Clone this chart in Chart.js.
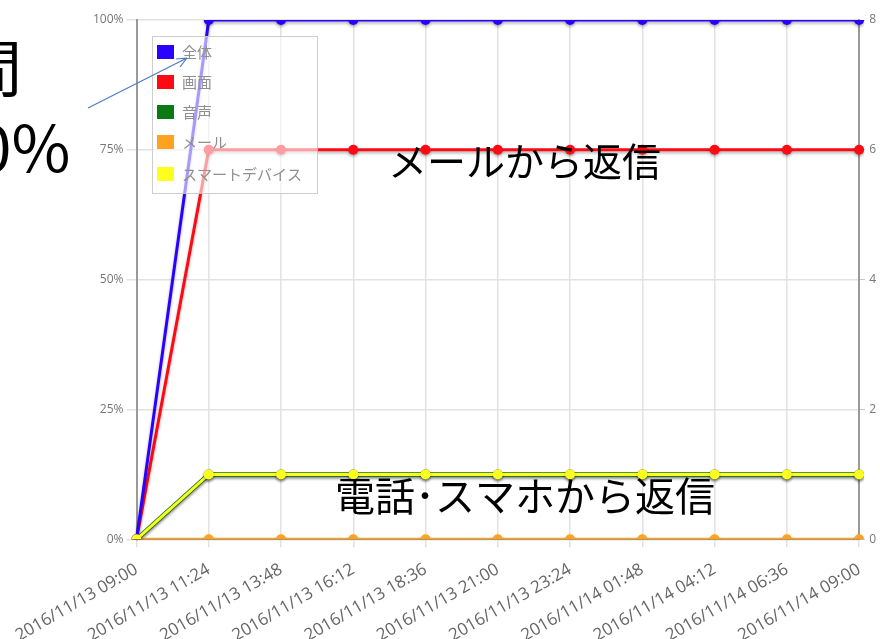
<!DOCTYPE html>
<html>
<head>
<meta charset="utf-8">
<script src="https://cdn.jsdelivr.net/npm/chart.js@4.4.1/dist/chart.umd.min.js"></script>
<style>
    html, body { margin: 0; padding: 0; background: #fff; overflow: hidden; }
    #wrap { width: 880px; height: 639px; overflow: hidden; position: relative; }
    canvas { position: absolute; left: 0; top: 0; }
</style>
</head>
<body>
<div id="wrap">
    <canvas id="replyChart" width="882" height="662"></canvas>
</div>
<script>
// x-axis categories
const labels = [
    '2016/11/13 09:00', '2016/11/13 11:24', '2016/11/13 13:48', '2016/11/13 16:12',
    '2016/11/13 18:36', '2016/11/13 21:00', '2016/11/13 23:24', '2016/11/14 01:48',
    '2016/11/14 04:12', '2016/11/14 06:36', '2016/11/14 09:00'
];

// counts on the right axis (0-8)
const totalCounts  = [0, 8, 8, 8, 8, 8, 8, 8, 8, 8, 8];
const screenCounts = [0, 6, 6, 6, 6, 6, 6, 6, 6, 6, 6];
const voiceCounts  = [0, 1, 1, 1, 1, 1, 1, 1, 1, 1, 1];
const mailCounts   = [0, 0, 0, 0, 0, 0, 0, 0, 0, 0, 0];
const smartCounts  = [0, 1, 1, 1, 1, 1, 1, 1, 1, 1, 1];

const seriesNames  = ['全体', '画面', '音声', 'メール', 'スマートデバイス'];
const seriesColors = ['#2a00ff', '#ff0a14', '#0a7a14', '#ffa21e', '#ffff1e'];

const leftTicks  = [0, 25, 50, 75, 100];
const rightTicks = [0, 2, 4, 6, 8];

const annotations = [
    { text: '間', x: -40, y: 68, size: 62 },
    { text: '0%', x: -24, y: 148, size: 64 },
    { text: 'メールから返信', x: 388, y: 161, size: 39 },
    { text: '電話･スマホから返信', x: 335, y: 496, size: 40 }
];

// legend box drawn inside the plot, semi transparent
const boxLegend = {
    id: 'boxLegend',
    afterDatasetsDraw(chart) {
        const ctx = chart.ctx;
        ctx.save();
        ctx.fillStyle = 'rgba(255,255,255,0.6)';
        ctx.fillRect(152, 36, 165, 157);
        ctx.strokeStyle = 'rgba(200,200,200,0.9)';
        ctx.lineWidth = 1;
        ctx.strokeRect(152.5, 36.5, 165, 157);
        ctx.font = '15px "Noto Sans CJK JP"';
        ctx.textBaseline = 'middle';
        const rows = [52, 82, 112, 142, 174];
        seriesNames.forEach((name, i) => {
            ctx.fillStyle = seriesColors[i];
            ctx.fillRect(157, rows[i] - 7, 17, 14);
            ctx.fillStyle = '#8f8f8f';
            ctx.fillText(name, 182, rows[i]);
        });
        ctx.restore();
    }
};

const shadowLines = {
    id: 'shadowLines',
    beforeDatasetDraw(chart) {
        const ctx = chart.ctx;
        ctx.save();
        ctx.shadowColor = 'rgba(0,0,0,0.3)';
        ctx.shadowBlur = 3;
        ctx.shadowOffsetY = 2;
    },
    afterDatasetDraw(chart) {
        chart.ctx.restore();
    }
};

const overlayText = {
    id: 'overlayText',
    afterDraw(chart) {
        const ctx = chart.ctx;
        ctx.save();
        ctx.fillStyle = '#000';
        ctx.textBaseline = 'middle';
        annotations.forEach(a => {
            ctx.font = a.size + 'px "Noto Sans CJK JP"';
            ctx.fillText(a.text, a.x, a.y);
        });
        // arrow pointing at the legend
        ctx.strokeStyle = '#4a7cc0';
        ctx.lineWidth = 1.2;
        ctx.beginPath();
        ctx.moveTo(88, 108);
        ctx.lineTo(187, 58);
        ctx.moveTo(187, 58);
        ctx.lineTo(176, 59);
        ctx.moveTo(187, 58);
        ctx.lineTo(180, 67);
        ctx.stroke();
        ctx.restore();
    }
};

function makeSet(i, values, width, order) {
    return {
        label: seriesNames[i],
        data: values,
        yAxisID: 'y1',
        order: order,
        borderColor: seriesColors[i],
        backgroundColor: seriesColors[i],
        borderWidth: width,
        pointRadius: 5,
        pointHoverRadius: 5,
        pointBorderWidth: 0,
        tension: 0,
        fill: false
    };
}

const ctx = document.getElementById('replyChart').getContext('2d');
new Chart(ctx, {
    type: 'line',
    data: {
        labels: labels,
        datasets: [
            makeSet(0, totalCounts, 3, 1),
            makeSet(1, screenCounts, 3, 2),
            makeSet(2, voiceCounts, 4.5, 4),
            makeSet(3, mailCounts, 3, 3),
            makeSet(4, smartCounts, 3, 0)
        ]
    },
    options: {
        responsive: false,
        animation: false,
        layout: { padding: { left: 90, top: 20, right: 2, bottom: 4 } },
        plugins: {
            legend: { display: false },
            tooltip: { enabled: false }
        },
        scales: {
            x: {
                offset: false,
                grid: { color: '#e2e2e2', lineWidth: 1.5, tickLength: 8 },
                border: { color: '#9a9a9a', width: 1 },
                ticks: {
                    minRotation: 30,
                    maxRotation: 30,
                    color: '#666',
                    font: { family: 'Open Sans', size: 17 },
                    padding: 12
                }
            },
            y: {
                position: 'left',
                min: 0,
                max: 100,
                afterBuildTicks: axis => { axis.ticks = leftTicks.map(v => ({ value: v })); },
                grid: { color: '#e2e2e2', lineWidth: 1.5, tickLength: 10 },
                border: { color: '#9a9a9a', width: 2 },
                ticks: {
                    color: '#777',
                    font: { family: 'Open Sans', size: 12 },
                    padding: 3,
                    callback: v => v + '%'
                }
            },
            y1: {
                position: 'right',
                min: 0,
                max: 8,
                afterBuildTicks: axis => { axis.ticks = rightTicks.map(v => ({ value: v })); },
                grid: { drawOnChartArea: false, color: '#c8c8c8', tickLength: 6 },
                border: { color: '#9a9a9a', width: 2 },
                ticks: {
                    color: '#777',
                    font: { family: 'Open Sans', size: 12 },
                    padding: 4
                }
            }
        }
    },
    plugins: [shadowLines, boxLegend, overlayText]
});
</script>
</body>
</html>
